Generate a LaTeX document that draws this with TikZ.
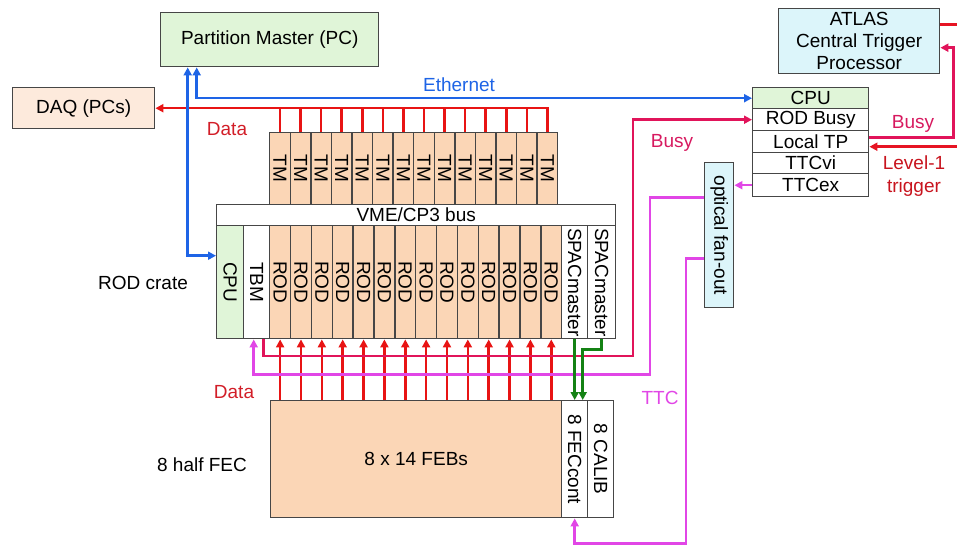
\documentclass[tikz,border=0pt]{standalone}
\usepackage{fontspec}
\setmainfont{Liberation Sans}
\usetikzlibrary{arrows.meta,calc}
\definecolor{gfill}{RGB}{224,245,216}
\definecolor{peach}{RGB}{251,214,182}
\definecolor{daqfill}{RGB}{253,234,220}
\definecolor{cyanfill}{RGB}{220,245,250}
\definecolor{boxline}{RGB}{70,70,70}
\definecolor{ethc}{RGB}{30,100,230}
\definecolor{datac}{RGB}{232,20,20}
\definecolor{busyc}{RGB}{225,20,90}
\definecolor{lonec}{RGB}{230,20,35}
\definecolor{ttcc}{RGB}{225,70,230}
\definecolor{grnc}{RGB}{20,130,20}
\definecolor{datat}{RGB}{210,30,40}
\definecolor{busyt}{RGB}{215,25,95}
\definecolor{lonet}{RGB}{200,20,30}
\newcommand\lbl{\fontsize{19}{23}\selectfont}
\newcommand\vtext[1]{\rotatebox{-90}{#1}}
\tikzset{
  box/.style={draw=boxline, line width=1.4pt, inner sep=0pt, anchor=north west, font=\lbl, align=center},
  tip/.tip={Triangle[length=8pt,width=8pt]},
  conn/.style={line width=2.5pt, -tip},
  eth/.style={conn, draw=ethc},
  datal/.style={conn, draw=datac},
  busyl/.style={conn, draw=busyc},
  lonel/.style={conn, draw=lonec},
  ttcl/.style={conn, draw=ttcc},
  grnl/.style={conn, draw=grnc},
  tlabel/.style={font=\lbl, inner sep=0pt, align=center}
}
\begin{document}
\begin{tikzpicture}[x=1pt,y=-1pt]
\useasboundingbox (0,0) rectangle (957,544);
\clip (0,0) rectangle (957,544);
% top boxes
\node[box,fill=gfill,minimum width=218pt,minimum height=54pt] (pm) at (160,12) {Partition Master (PC)};
\node[box,fill=daqfill,minimum width=142pt,minimum height=41pt] (daq) at (12,87) {DAQ (PCs)};
\node[box,fill=cyanfill,minimum width=161pt,minimum height=65pt] (atlas) at (778,8) {ATLAS\\[-1pt]Central Trigger\\[-1pt]Processor};
% TTC crate
\node[box,fill=gfill,minimum width=116pt,minimum height=21pt] (tcpu) at (752,87) {CPU};
\node[box,fill=white,minimum width=116pt,minimum height=22pt] (trodbusy) at (752,108) {ROD Busy};
\node[box,fill=white,minimum width=116pt,minimum height=22pt] (tltp) at (752,130) {Local TP};
\node[box,fill=white,minimum width=116pt,minimum height=21pt] (tttcvi) at (752,152) {TTCvi};
\node[box,fill=white,minimum width=116pt,minimum height=23pt] (tttcex) at (752,173) {TTCex};
\node[box,fill=cyanfill,minimum width=29pt,minimum height=145pt] (fanout) at (704,162) {\vtext{optical fan-out}};
% TMs
\foreach \i in {1,...,14} {
  \node[box,fill=peach,minimum width=20.57pt,minimum height=72pt] (tm\i) at ({269+20.57*(\i-1)},132) {\vtext{TM}};
}
% ROD crate
\node[box,fill=white,minimum width=399pt,minimum height=21pt] (bus) at (216,204) {VME/CP3 bus};
\node[box,fill=gfill,minimum width=27pt,minimum height=113pt] (cpu) at (216,225) {\vtext{CPU}};
\node[box,fill=white,minimum width=26pt,minimum height=113pt] (tbm) at (243,225) {\vtext{TBM}};
\foreach \i in {1,...,14} {
  \node[box,fill=peach,minimum width=20.857pt,minimum height=113pt] (rod\i) at ({269+20.857*(\i-1)},225) {\vtext{ROD}};
}
\node[box,fill=white,minimum width=26pt,minimum height=113pt] (spac1) at (561,225) {\vtext{SPACmaster}};
\node[box,fill=white,minimum width=28pt,minimum height=113pt] (spac2) at (587,225) {\vtext{SPACmaster}};
% FEC
\node[box,fill=peach,minimum width=291pt,minimum height=117pt] (feb) at (270,400) {8 x 14 FEBs};
\node[box,fill=white,minimum width=26pt,minimum height=117pt] (feccont) at (561,400) {\vtext{8 FECcont}};
\node[box,fill=white,minimum width=26pt,minimum height=117pt] (calib) at (587,400) {\vtext{8 CALIB}};
% labels
\node[tlabel,text=ethc] (lether) at (459,85) {Ethernet};
\node[tlabel,text=datat] (ldata1) at (227,129) {Data};
\node[tlabel,text=datat] (ldata2) at (234,392) {Data};
\node[tlabel,text=busyt] (lbusy1) at (672,143) {Busy};
\node[tlabel,text=busyt] (lbusy2) at (913,124) {Busy};
\node[tlabel,text=lonet] (llone) at (914,176) {Level-1\\trigger};
\node[tlabel,text=ttcc] (lttc) at (660,398) {TTC};
\node[tlabel] (lrodcrate) at (143,283) {ROD crate};
\node[tlabel] (lfec) at (202,465) {8 half FEC};
% data lines TM -> DAQ
\foreach \i in {1,...,13} {
  \draw[datac,line width=2.5pt] (tm\i.north) -- (tm\i.north |- daq.east);
}
\draw[datal] (tm14.north) |- (daq.east);
% data FEB -> ROD
\foreach \i in {1,...,14} {
  \draw[datal] (rod\i.south |- feb.north) -- (rod\i.south);
}
% ethernet
\draw[eth,tip-tip] ([xshift=-82pt]pm.south) |- ([yshift=26.5pt]cpu.west);
\draw[eth,tip-tip] ([xshift=-73pt]pm.south) |- (tcpu.west);
% busy from ROD crate
\coordinate (busyC) at (633,356);
\draw[busyl] ([xshift=7pt]tbm.south) |- (busyC) |- (trodbusy.west);
% busy to ATLAS
\draw[busyl] ([yshift=4pt]tltp.east) -- ++(84,0) |- ([yshift=-6.5pt]atlas.east);
% level-1 trigger
\draw[lonel] ([yshift=16.5pt]atlas.east) -- ++(26,0) |- ([yshift=-5pt]tltp.east);
% TTC
\draw[ttcl] (tttcex.west) -- (fanout.east |- tttcex.west);
\draw[ttcl] ([yshift=37.5pt]fanout.west) -- ++(-54,0) |- ([xshift=-3pt,yshift=-35pt]tbm.south) -- ([xshift=-3pt]tbm.south);
\draw[ttcl] ([yshift=-23.5pt]fanout.west) -- ++(-18,0) |- ([yshift=-25pt]feccont.south) -- (feccont.south);
% green SPAC -> FECcont
\draw[grnl] (spac1.south) -- (spac1.south |- feccont.north);
\draw[grnl] (spac2.south) -- ++(0,10) -| ([xshift=8pt]feccont.north);
\end{tikzpicture}
\end{document}
